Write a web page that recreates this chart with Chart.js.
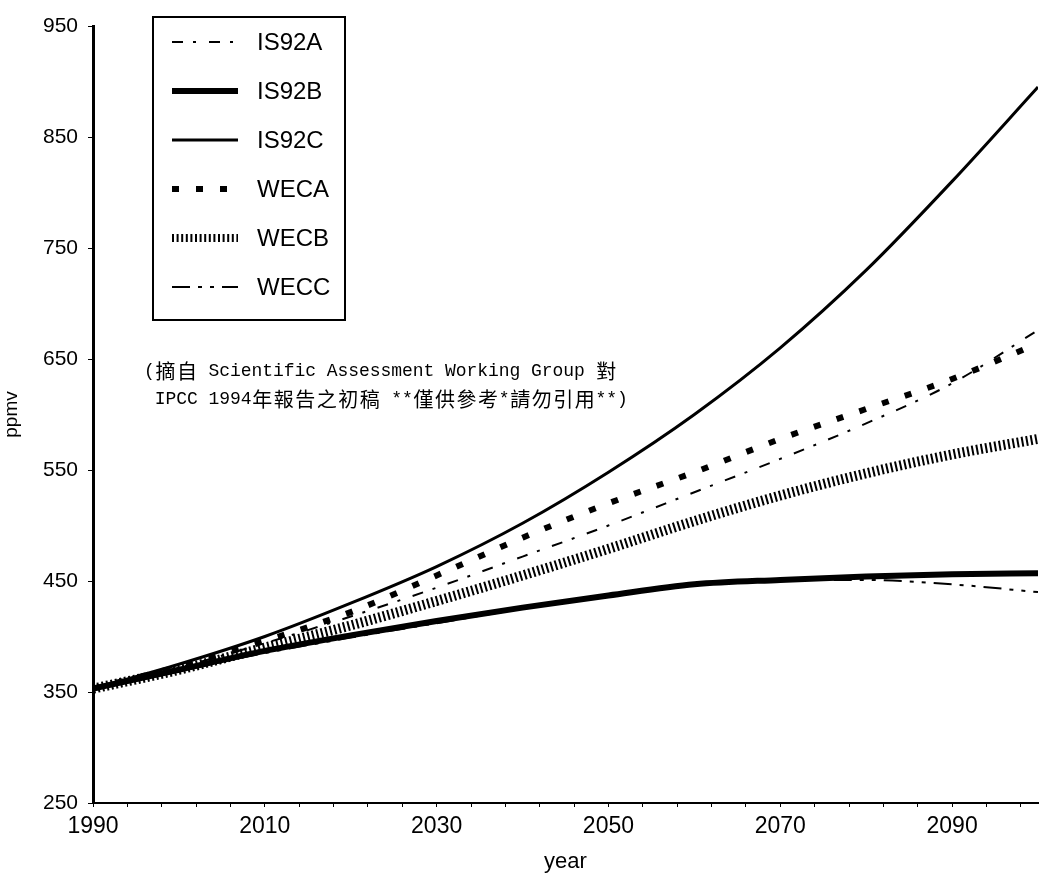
<!DOCTYPE html>
<html>
<head>
<meta charset="utf-8">
<script src="https://cdn.jsdelivr.net/npm/chart.js@4.4.1/dist/chart.umd.min.js"></script>
<style>
  html, body { margin: 0; padding: 0; background: #fff; }
  canvas { display: block; }
</style>
</head>
<body>
<canvas id="co2_chart" width="1039" height="875"></canvas>
<script>
// data block (ppmv, every 10 years)
const years = [1990, 2000, 2010, 2020, 2030, 2040, 2050, 2060, 2070, 2080, 2090, 2100];
const is92a = [353, 372, 394, 418, 444, 472, 500, 530, 560, 592, 628, 676];
const is92b = [353, 370, 387, 401, 414, 426, 437, 447, 451, 454, 456, 457];
const is92c = [353, 375, 400, 430, 463, 502, 548, 600, 660, 730, 810, 895];
const weca  = [353, 373, 396, 422, 455, 489, 520, 548, 578, 605, 632, 664];
const wecb  = [353, 370, 390, 410, 432, 455, 479, 504, 527, 547, 564, 578];
const wecc  = [353, 369, 385, 399, 412, 425, 437, 446, 451, 451, 447, 440];

const xLabels = [1990, 2010, 2030, 2050, 2070, 2090];
const yLabels = [250, 350, 450, 550, 650, 750, 850, 950];
const noteLines = [
    '(摘自 Scientific Assessment Working Group 對',
    ' IPCC 1994年報告之初稿 **僅供參考*請勿引用**)'
];

const pts = arr => years.map((yr, i) => ({ x: yr, y: arr[i] }));

// setup block
const data = {
    datasets: [{
        label: 'IS92A', data: pts(is92a),
        borderColor: '#000', borderWidth: 2, borderDash: [11, 10, 3, 13],
    }, {
        label: 'IS92B', data: pts(is92b),
        borderColor: '#000', borderWidth: 6,
    }, {
        label: 'IS92C', data: pts(is92c),
        borderColor: '#000', borderWidth: 3,
    }, {
        label: 'WECA', data: pts(weca),
        borderColor: '#000', borderWidth: 6, borderDash: [7, 17],
    }, {
        label: 'WECB', data: pts(wecb),
        borderColor: '#000', borderWidth: 10, borderDash: [2, 2.6],
    }, {
        label: 'WECC', data: pts(wecc),
        borderColor: '#000', borderWidth: 2, borderDash: [18, 8, 4, 8, 4, 8],
    }]
};

// legend box + note, drawn on top of the plot
const boxLegend = {
    id: 'boxLegend',
    afterDraw(chart) {
        const ctx = chart.ctx;
        ctx.save();
        ctx.strokeStyle = '#000';
        ctx.lineWidth = 2;
        ctx.setLineDash([]);
        ctx.strokeRect(153, 17, 192, 303);
        chart.data.datasets.forEach((ds, i) => {
            const y = 42 + i * 49;
            ctx.beginPath();
            ctx.lineWidth = Math.min(ds.borderWidth, 8);
            ctx.setLineDash(ds.borderDash || []);
            ctx.moveTo(172, y);
            ctx.lineTo(238, y);
            ctx.stroke();
            ctx.setLineDash([]);
            ctx.fillStyle = '#000';
            ctx.font = '24px "Liberation Sans", Arial, sans-serif';
            ctx.textBaseline = 'middle';
            ctx.textAlign = 'left';
            ctx.fillText(ds.label, 257, y + 1);
        });
        // note in a monospace grid, CJK takes two cells
        const u = 10.75;
        noteLines.forEach((line, li) => {
            let x = 144;
            const y = 371 + li * 28;
            for (const ch of line) {
                const wide = ch.charCodeAt(0) > 0x2e80;
                ctx.font = wide ? '20px "Noto Sans CJK TC"' : '18px "Liberation Mono", monospace';
                ctx.textAlign = 'center';
                ctx.fillText(ch, x + (wide ? u : u / 2), y);
                x += wide ? 2 * u : u;
            }
        });
        ctx.restore();
    }
};

// config block
const config = {
    type: 'line',
    data,
    options: {
        responsive: false,
        animation: false,
        layout: { padding: { top: 26, right: 1, left: 0, bottom: 0 } },
        plugins: { legend: { display: false }, tooltip: { enabled: false } },
        elements: {
            point: { radius: 0 },
            line: { cubicInterpolationMode: 'monotone', borderCapStyle: 'butt' },
        },
        scales: {
            x: {
                type: 'linear', min: 1990, max: 2100,
                afterBuildTicks: s => {
                    const t = [];
                    for (let v = 1990; v <= 2098; v += 4) t.push({ value: v });
                    s.ticks = t;
                },
                afterFit: s => { s.height = 72; },
                grid: { drawOnChartArea: false, tickLength: 4, color: '#000', lineWidth: 1 },
                border: { color: '#000', width: 2 },
                ticks: {
                    color: '#000', padding: 6, maxRotation: 0, autoSkip: false,
                    font: { family: '"Liberation Sans Narrow", "Liberation Sans", Arial', size: 23 },
                    callback: v => xLabels.includes(v) ? String(v) : '',
                },
                title: {
                    display: true, text: 'year', color: '#000', padding: 0,
                    font: { family: '"Liberation Sans Narrow", "Liberation Sans", Arial', size: 22 },
                },
            },
            y: {
                min: 250, max: 950,
                afterBuildTicks: s => { s.ticks = yLabels.map(v => ({ value: v })); },
                afterFit: s => { s.width = 93; },
                grid: { drawOnChartArea: false, tickLength: 5, color: '#000' },
                border: { color: '#000', width: 3 },
                ticks: {
                    color: '#000', padding: 10,
                    font: { family: '"Liberation Sans", Arial', size: 21 },
                },
                title: {
                    display: true, text: 'ppmv', color: '#000', padding: 0,
                    font: { family: '"Liberation Sans", Arial', size: 19 },
                },
            },
        }
    },
    plugins: [boxLegend]
};

// render init block
const co2Chart = new Chart(document.getElementById('co2_chart'), config);
</script>
</body>
</html>
